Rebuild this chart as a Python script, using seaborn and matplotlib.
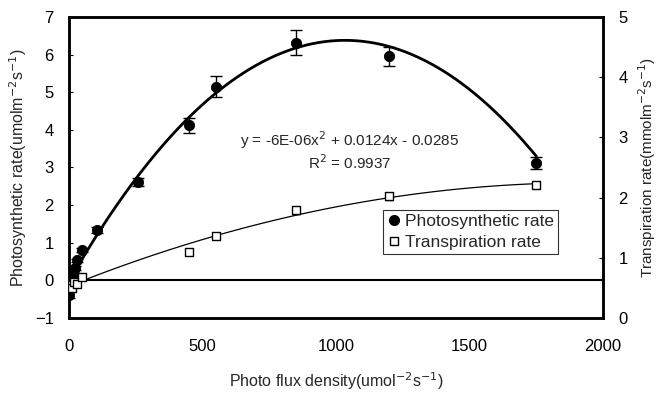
import numpy as np
import pandas as pd
import matplotlib
matplotlib.use("Agg")
import matplotlib.pyplot as plt
import seaborn as sns
from matplotlib.lines import Line2D

# ---- data ----
photo_x = [0, 8, 17, 22, 31, 47, 104, 260, 450, 550, 850, 1200, 1750]
photo_y = [-0.38, -0.15, 0.15, 0.32, 0.53, 0.80, 1.35, 2.62, 4.12, 5.15, 6.32, 5.95, 3.12]
photo_err = [0.08, 0.05, 0.05, 0.05, 0.05, 0.05, 0.08, 0.10, 0.20, 0.28, 0.32, 0.25, 0.15]

trans_x = [0, 10, 20, 30, 50, 450, 550, 850, 1200, 1750]
trans_y = [0.55, 0.50, 0.60, 0.57, 0.68, 1.10, 1.36, 1.79, 2.02, 2.21]
trans_err = [0.04, 0.04, 0.04, 0.04, 0.04, 0.05, 0.05, 0.06, 0.06, 0.05]

# trendline coefficients (from the equation on the chart)
coef = [-6e-06, 0.0124, -0.0285]

x_ticks = [0, 500, 1000, 1500, 2000]
y_left_ticks = [-1, 0, 1, 2, 3, 4, 5, 6, 7]
y_right_ticks = [0, 1, 2, 3, 4, 5]

sns.set_theme(style="white")
plt.rcParams['font.family'] = ['Liberation Sans', 'DejaVu Sans']

fig = plt.figure(figsize=(6.57, 3.94), dpi=100)
ax = fig.add_axes([0.105, 0.193, 0.813, 0.764])
ax2 = ax.twinx()

# photosynthesis trend curve
xs = np.linspace(0, 1750, 300)
curve = pd.DataFrame({"x": xs, "y": np.polyval(coef, xs)})
sns.lineplot(data=curve, x="x", y="y", ax=ax, color="black", lw=2.0, legend=False)

ax.axhline(0, color="black", lw=1.5, zorder=1)

ax.errorbar(photo_x, photo_y, yerr=photo_err, fmt="none", ecolor="black",
            elinewidth=1.0, capsize=4, capthick=1.0, zorder=3)
sns.scatterplot(x=photo_x, y=photo_y, ax=ax, marker="o", s=55, color="black",
                edgecolor="black", zorder=4, legend=False)

# transpiration: quadratic trend via seaborn regplot
tdf = pd.DataFrame({"x": trans_x, "y": trans_y})
sns.regplot(data=tdf, x="x", y="y", order=2, ci=None, scatter=False, ax=ax2,
            line_kws=dict(color="black", lw=0.9), truncate=True)
ax2.errorbar(trans_x, trans_y, yerr=trans_err, fmt="none", ecolor="black",
             elinewidth=1.0, capsize=3, capthick=1.0, zorder=3)
ax2.scatter(trans_x, trans_y, marker="s", s=30, facecolor="white",
            edgecolor="black", linewidths=1.0, zorder=4)

ax.set_xlim(0, 2000)
ax.set_ylim(-1, 7)
ax2.set_ylim(0, 5)
ax.set_xticks(x_ticks)
ax.set_yticks(y_left_ticks)
ax2.set_yticks(y_right_ticks)

for a in (ax, ax2):
    a.tick_params(direction="in", length=3, width=0.8, labelsize=12, colors="black")
    for s in a.spines.values():
        s.set_color("black")
        s.set_linewidth(1.8)
ax.tick_params(axis="x", pad=15)
ax.tick_params(axis="y", pad=11)
ax2.tick_params(axis="y", pad=11)

ax.set_xlabel("Photo flux density(umol$^{-2}$s$^{-1}$)", fontsize=11.5, labelpad=12)
ax.set_ylabel("Photosynthetic rate(umolm$^{-2}$s$^{-1}$)", fontsize=11.5, labelpad=4)
ax2.set_ylabel("Transpiration rate(mmolm$^{-2}$s$^{-1}$)", fontsize=11, labelpad=6)
ax2.set_xlabel("")

ax.text(1052, 3.72, "y = -6E-06x$^{2}$ + 0.0124x - 0.0285", ha="center", va="center",
        fontsize=11)
ax.text(1052, 3.12, "R$^{2}$ = 0.9937", ha="center", va="center", fontsize=11)

handles = [Line2D([], [], marker="o", color="black", ls="none", markersize=7),
           Line2D([], [], marker="s", markerfacecolor="white", markeredgecolor="black",
                  ls="none", markersize=6)]
leg = ax2.legend(handles, ["Photosynthetic rate", "Transpiration rate"],
                 loc="upper left", bbox_to_anchor=(0.588, 0.359), fontsize=12.5,
                 frameon=True, fancybox=False, handletextpad=0.2,
                 handlelength=0.8, borderpad=0.25, labelspacing=0.3,
                 borderaxespad=0)
leg.get_frame().set_edgecolor("black")
leg.get_frame().set_linewidth(0.8)

fig.savefig("out.png", dpi=100)
